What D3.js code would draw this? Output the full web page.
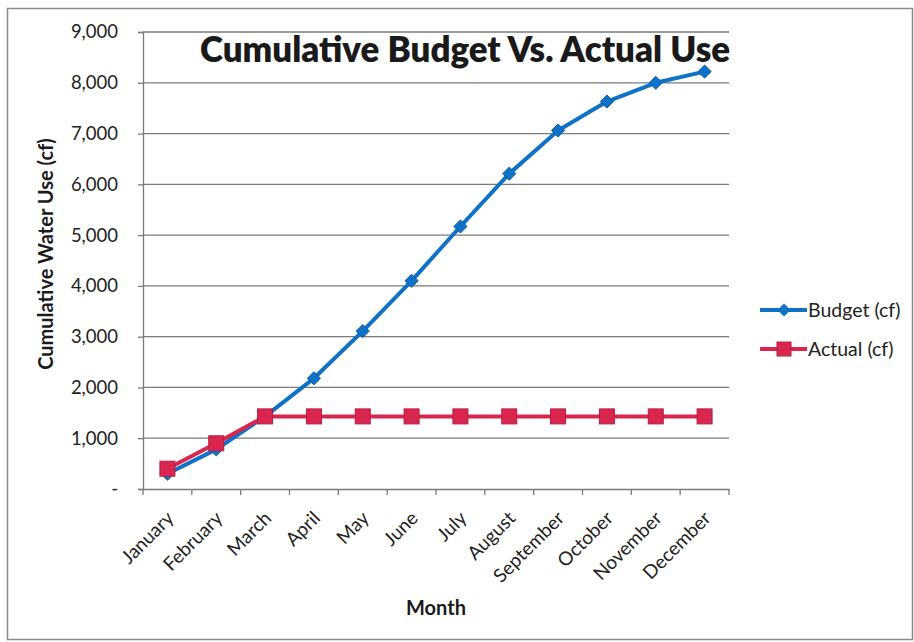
<!DOCTYPE html>
<html>
<head>
<meta charset="utf-8">
<script src="https://cdn.jsdelivr.net/npm/d3@7"></script>
<style>
  html, body { margin: 0; padding: 0; background: #fff; }
  svg { display: block; font-family: Lato, "Open Sans", sans-serif; }
</style>
</head>
<body>
<svg id="chart" width="914" height="642"></svg>
<script>
const months = ["January","February","March","April","May","June","July","August","September","October","November","December"];
const budget = [300, 780, 1430, 2180, 3110, 4100, 5170, 6210, 7060, 7630, 8000, 8220];
const actual = [400, 900, 1430, 1430, 1430, 1430, 1430, 1430, 1430, 1430, 1430, 1430];
const yTicks = [0, 1000, 2000, 3000, 4000, 5000, 6000, 7000, 8000, 9000];
const seriesNames = ["Budget (cf)", "Actual (cf)"];
const titleText = "Cumulative Budget Vs. Actual Use";
const xTitle = "Month";
const yTitle = "Cumulative Water Use (cf)";

const blue = "#1072c6", red = "#d9264f";
const svg = d3.select("#chart");

// outer frame
svg.append("rect").attr("x", 7.5).attr("y", 8.5).attr("width", 905).attr("height", 631)
  .attr("fill", "#fff").attr("stroke", "#8a8a8a").attr("stroke-width", 1.5);

const L = 143, R = 729, T = 32, B = 489;
const x = d3.scaleBand().domain(months).range([L, R]);
const y = d3.scaleLinear().domain([0, 9000]).range([B, T]);
const cx = m => x(m) + x.bandwidth() / 2;

// gridlines
svg.append("g").selectAll("line").data(yTicks.filter(d => d > 0)).join("line")
  .attr("x1", L).attr("x2", R).attr("y1", d => y(d)).attr("y2", d => y(d))
  .attr("stroke", "#7a7a7a").attr("stroke-width", 1.3);

// y axis
const yAxis = d3.axisLeft(y).tickValues(yTicks).tickSize(5).tickPadding(20)
  .tickFormat(d => d === 0 ? "-" : d3.format(",")(d));
const gy = svg.append("g").attr("transform", `translate(${L},0)`).call(yAxis);
gy.select(".domain").attr("stroke", "#7a7a7a").attr("stroke-width", 1.3);
gy.selectAll(".tick line").attr("stroke", "#7a7a7a").attr("stroke-width", 1.3);
gy.selectAll(".tick text").attr("font-family", "Lato, sans-serif").attr("font-size", 18.5).attr("fill", "#222");

// x axis
const xAxis = d3.axisBottom(x).tickSize(0).tickFormat("");
const gx = svg.append("g").attr("transform", `translate(0,${B})`).call(xAxis);
gx.select(".domain").attr("stroke", "#7a7a7a").attr("stroke-width", 1.3);
// tick marks at band boundaries
const bounds = months.map(m => x(m)).concat([R]);
svg.append("g").selectAll("line").data(bounds).join("line")
  .attr("x1", d => d).attr("x2", d => d).attr("y1", B).attr("y2", B + 6)
  .attr("stroke", "#7a7a7a").attr("stroke-width", 1.3);
// x labels
svg.append("g").selectAll("text").data(months).join("text")
  .attr("transform", d => `translate(${cx(d) - 2},${B + 21}) rotate(-45)`)
  .attr("text-anchor", "end").attr("dy", "0.7em")
  .attr("font-size", 19).attr("fill", "#222").text(d => d);

// lines
const line = d3.line().x((d, i) => cx(months[i])).y(d => y(d));
svg.append("path").datum(budget).attr("d", line).attr("fill", "none")
  .attr("stroke", blue).attr("stroke-width", 4).attr("stroke-linejoin", "round");
svg.append("path").datum(actual).attr("d", line).attr("fill", "none")
  .attr("stroke", red).attr("stroke-width", 4).attr("stroke-linejoin", "round");

// budget markers (diamonds) - drawn under actual
const diamond = d3.symbol().type(d3.symbolDiamond2).size(110);
svg.append("g").selectAll("path").data(budget).join("path")
  .attr("d", diamond).attr("transform", (d, i) => `translate(${cx(months[i])},${y(d)})`)
  .attr("fill", blue).attr("stroke", "#0b5ea6").attr("stroke-width", 1);
// actual markers (squares)
svg.append("g").selectAll("rect").data(actual).join("rect")
  .attr("x", (d, i) => cx(months[i]) - 7.5).attr("y", d => y(d) - 7.5)
  .attr("width", 15).attr("height", 15)
  .attr("fill", red).attr("stroke", "#b81c40").attr("stroke-width", 1);

// title
svg.append("text").attr("x", 465).attr("y", 62).attr("text-anchor", "middle")
  .attr("font-size", 36).attr("font-weight", 800).attr("fill", "#1a1a1a")
  .attr("textLength", 530).attr("lengthAdjust", "spacingAndGlyphs").text(titleText);

// axis titles
svg.append("text").attr("x", 436).attr("y", 615).attr("text-anchor", "middle")
  .attr("font-size", 20).attr("font-weight", 700).attr("fill", "#1a1a1a").text(xTitle);
svg.append("text").attr("transform", `translate(53,254) rotate(-90)`).attr("text-anchor", "middle")
  .attr("font-size", 20).attr("font-weight", 700).attr("fill", "#1a1a1a").text(yTitle);

// legend
const legY = [310, 349];
const leg = svg.append("g");
seriesNames.forEach((name, i) => {
  const col = i === 0 ? blue : red;
  leg.append("line").attr("x1", 760).attr("x2", 807).attr("y1", legY[i]).attr("y2", legY[i])
    .attr("stroke", col).attr("stroke-width", 4);
  if (i === 0) {
    leg.append("path").attr("d", diamond).attr("transform", `translate(784,${legY[i]})`)
      .attr("fill", col);
  } else {
    leg.append("rect").attr("x", 777).attr("y", legY[i] - 7).attr("width", 14).attr("height", 14)
      .attr("fill", col).attr("stroke", "#b81c40");
  }
  leg.append("text").attr("x", 808).attr("y", legY[i]).attr("dy", "0.35em")
    .attr("font-size", 19.5).attr("fill", "#222").text(name);
});
</script>
</body>
</html>
